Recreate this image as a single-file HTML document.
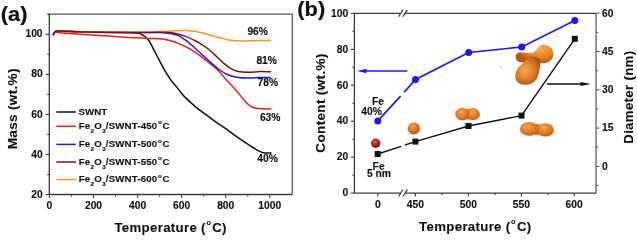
<!DOCTYPE html>
<html><head><meta charset="utf-8"><style>
html,body{margin:0;padding:0;background:#fff;width:637px;height:236px;overflow:hidden}
svg{display:block;will-change:transform}
text{font-family:"Liberation Sans", sans-serif;font-weight:bold;fill:#111;stroke:#111}
</style></head><body>
<svg width="637" height="236" viewBox="0 0 637 236">
<rect width="637" height="236" fill="#fff"/>
<text transform="translate(0.80,20.50) scale(1.04,1)" font-size="21" text-anchor="start" stroke-width="0.2" >(a)</text>
<path d="M47.6,14.1 H292.3 V194.5" fill="none" stroke="#5a5a5a" stroke-width="1.3"/>
<path d="M49.3,14.1 V194.5 H292.3" fill="none" stroke="#3c3c3c" stroke-width="1.3"/>
<line x1="45.7" y1="194.5" x2="49.3" y2="194.5" stroke="#3c3c3c" stroke-width="1.1"/>
<text transform="translate(42.60,197.60) scale(1.03,1)" font-size="10.0" text-anchor="end" stroke-width="0.12" >20</text>
<line x1="47.3" y1="174.5" x2="49.3" y2="174.5" stroke="#3c3c3c" stroke-width="1.1"/>
<line x1="45.7" y1="154.4" x2="49.3" y2="154.4" stroke="#3c3c3c" stroke-width="1.1"/>
<text transform="translate(42.60,157.55) scale(1.03,1)" font-size="10.0" text-anchor="end" stroke-width="0.12" >40</text>
<line x1="47.3" y1="134.4" x2="49.3" y2="134.4" stroke="#3c3c3c" stroke-width="1.1"/>
<line x1="45.7" y1="114.4" x2="49.3" y2="114.4" stroke="#3c3c3c" stroke-width="1.1"/>
<text transform="translate(42.60,117.50) scale(1.03,1)" font-size="10.0" text-anchor="end" stroke-width="0.12" >60</text>
<line x1="47.3" y1="94.4" x2="49.3" y2="94.4" stroke="#3c3c3c" stroke-width="1.1"/>
<line x1="45.7" y1="74.4" x2="49.3" y2="74.4" stroke="#3c3c3c" stroke-width="1.1"/>
<text transform="translate(42.60,77.45) scale(1.03,1)" font-size="10.0" text-anchor="end" stroke-width="0.12" >80</text>
<line x1="47.3" y1="54.3" x2="49.3" y2="54.3" stroke="#3c3c3c" stroke-width="1.1"/>
<line x1="45.7" y1="34.3" x2="49.3" y2="34.3" stroke="#3c3c3c" stroke-width="1.1"/>
<text transform="translate(42.60,37.40) scale(1.03,1)" font-size="10.0" text-anchor="end" stroke-width="0.12" >100</text>
<line x1="47.3" y1="14.3" x2="49.3" y2="14.3" stroke="#3c3c3c" stroke-width="1.1"/>
<line x1="49.4" y1="194.5" x2="49.4" y2="198.1" stroke="#3c3c3c" stroke-width="1.1"/>
<text transform="translate(49.40,208.60) scale(1.03,1)" font-size="10.0" text-anchor="middle" stroke-width="0.12" >0</text>
<line x1="71.4" y1="194.5" x2="71.4" y2="196.5" stroke="#3c3c3c" stroke-width="1.1"/>
<line x1="93.5" y1="194.5" x2="93.5" y2="198.1" stroke="#3c3c3c" stroke-width="1.1"/>
<text transform="translate(93.48,208.60) scale(1.03,1)" font-size="10.0" text-anchor="middle" stroke-width="0.12" >200</text>
<line x1="115.5" y1="194.5" x2="115.5" y2="196.5" stroke="#3c3c3c" stroke-width="1.1"/>
<line x1="137.6" y1="194.5" x2="137.6" y2="198.1" stroke="#3c3c3c" stroke-width="1.1"/>
<text transform="translate(137.56,208.60) scale(1.03,1)" font-size="10.0" text-anchor="middle" stroke-width="0.12" >400</text>
<line x1="159.6" y1="194.5" x2="159.6" y2="196.5" stroke="#3c3c3c" stroke-width="1.1"/>
<line x1="181.6" y1="194.5" x2="181.6" y2="198.1" stroke="#3c3c3c" stroke-width="1.1"/>
<text transform="translate(181.64,208.60) scale(1.03,1)" font-size="10.0" text-anchor="middle" stroke-width="0.12" >600</text>
<line x1="203.7" y1="194.5" x2="203.7" y2="196.5" stroke="#3c3c3c" stroke-width="1.1"/>
<line x1="225.7" y1="194.5" x2="225.7" y2="198.1" stroke="#3c3c3c" stroke-width="1.1"/>
<text transform="translate(225.72,208.60) scale(1.03,1)" font-size="10.0" text-anchor="middle" stroke-width="0.12" >800</text>
<line x1="247.8" y1="194.5" x2="247.8" y2="196.5" stroke="#3c3c3c" stroke-width="1.1"/>
<line x1="269.8" y1="194.5" x2="269.8" y2="198.1" stroke="#3c3c3c" stroke-width="1.1"/>
<text transform="translate(269.80,208.60) scale(1.03,1)" font-size="10.0" text-anchor="middle" stroke-width="0.12" >1000</text>
<text transform="translate(170.60,232.20) scale(1.02,1)" font-size="13" text-anchor="middle" stroke-width="0.1" letter-spacing="0.3">Temperature (<tspan font-size="7.3" dx="0.6" dy="-7.3">o</tspan><tspan dx="0.9" dy="7.3">C)</tspan></text>
<text transform="translate(17.20,108.80) rotate(-90) scale(1.045,1)" font-size="13" text-anchor="middle" stroke-width="0.1" letter-spacing="0.3">Mass (wt.%)</text>
<path d="M53.3,34.6 C53.5,34.2 54.1,32.9 54.6,32.4 C55.1,31.8 55.8,31.5 56.5,31.3 C57.2,31.1 56.8,30.9 59.0,31.0 C61.2,31.1 65.2,31.4 70.0,31.6 C74.8,31.8 78.3,31.9 88.0,32.1 C97.7,32.3 119.7,32.4 128.0,32.6 C136.3,32.8 135.2,32.7 137.6,33.1 C140.0,33.5 141.0,34.2 142.7,35.2 C144.4,36.2 146.4,37.7 147.8,39.2 C149.2,40.8 150.0,42.5 151.2,44.5 C152.3,46.5 153.2,48.7 154.7,51.5 C156.1,54.3 158.2,58.2 159.9,61.3 C161.6,64.4 162.9,67.2 164.6,70.2 C166.3,73.2 168.2,76.3 170.2,79.1 C172.2,81.9 174.8,84.9 176.5,86.9 C178.2,89.0 178.7,89.7 180.1,91.4 C181.5,93.2 182.7,94.9 185.2,97.4 C187.7,99.9 191.9,103.8 195.3,106.6 C198.7,109.4 202.2,111.8 205.5,114.2 C208.8,116.7 211.8,119.0 215.0,121.3 C218.2,123.6 221.2,125.5 225.0,128.2 C228.8,130.9 233.5,134.4 237.7,137.3 C241.9,140.2 246.8,143.5 250.4,145.8 C254.0,148.1 257.0,150.0 259.3,151.2 C261.6,152.4 262.4,152.7 264.4,153.0 C266.3,153.3 269.9,152.9 271.0,152.9" fill="none" stroke="#101010" stroke-width="1.5" stroke-linejoin="round" stroke-linecap="round"/>
<path d="M53.3,34.6 C53.5,34.3 54.1,33.2 54.6,32.8 C55.1,32.4 54.8,32.1 56.5,32.2 C58.2,32.3 59.8,32.9 65.0,33.3 C70.2,33.7 77.5,34.1 88.0,34.8 C98.5,35.5 117.8,36.8 128.0,37.4 C138.2,38.0 143.2,38.1 149.0,38.4 C154.8,38.7 158.3,38.5 162.7,39.1 C167.1,39.7 171.6,40.9 175.4,42.2 C179.2,43.5 182.8,45.4 185.6,46.7 C188.4,48.0 189.6,48.7 192.0,50.2 C194.4,51.7 197.0,53.5 200.0,55.7 C203.0,58.0 207.0,61.1 210.2,63.7 C213.4,66.3 216.3,68.5 219.0,71.2 C221.7,73.9 224.1,77.4 226.4,80.0 C228.7,82.6 230.6,84.3 232.7,86.6 C234.8,88.9 237.0,91.5 239.1,94.0 C241.2,96.5 243.5,99.4 245.4,101.4 C247.3,103.4 248.8,105.1 250.5,106.2 C252.2,107.3 253.7,107.8 255.6,108.2 C257.5,108.6 259.4,108.7 261.9,108.8 C264.4,108.9 269.3,109.0 270.8,109.0" fill="none" stroke="#F01A1A" stroke-width="1.5" stroke-linejoin="round" stroke-linecap="round"/>
<path d="M53.3,34.6 C53.5,34.2 54.1,32.9 54.6,32.3 C55.1,31.7 55.8,31.3 56.5,31.1 C57.2,30.9 53.8,30.8 59.0,30.9 C64.2,31.0 76.5,31.6 88.0,31.9 C99.5,32.2 116.3,32.4 128.0,32.5 C139.7,32.6 151.7,32.4 158.0,32.5 C164.3,32.6 163.7,32.7 166.0,32.9 C168.3,33.1 170.0,33.5 172.0,33.9 C174.0,34.3 175.7,34.3 178.0,35.4 C180.3,36.5 183.3,38.5 185.6,40.2 C187.9,41.9 190.1,43.8 192.0,45.4 C193.9,47.0 195.3,48.5 197.0,50.0 C198.7,51.5 199.8,52.5 202.0,54.5 C204.2,56.5 207.4,59.5 210.2,62.0 C213.0,64.5 216.0,67.4 219.0,69.5 C222.0,71.6 224.8,73.4 228.0,74.7 C231.2,76.0 234.7,77.0 238.1,77.5 C241.5,78.0 244.7,78.0 248.3,78.0 C252.0,78.0 256.4,77.7 260.0,77.6 C263.6,77.5 268.3,77.6 270.0,77.6" fill="none" stroke="#1A1AF0" stroke-width="1.5" stroke-linejoin="round" stroke-linecap="round"/>
<path d="M53.3,34.6 C53.5,34.2 54.1,32.9 54.6,32.3 C55.1,31.7 55.8,31.3 56.5,31.1 C57.2,30.9 53.8,30.8 59.0,30.9 C64.2,31.0 76.2,31.8 88.0,32.0 C99.8,32.2 119.7,32.3 130.0,32.3 C140.3,32.3 143.7,32.4 150.0,32.2 C156.3,32.0 161.9,31.5 167.8,31.2 C173.7,30.9 180.9,30.4 185.6,30.5 C190.2,30.6 192.7,31.1 195.7,31.5 C198.7,31.9 201.0,32.6 203.4,33.2 C205.8,33.8 207.4,34.4 210.2,35.2 C213.0,36.0 216.9,37.0 220.3,37.9 C223.7,38.8 227.1,39.8 230.5,40.3 C233.9,40.8 237.3,41.0 240.7,41.1 C244.1,41.2 247.6,40.9 250.8,40.8 C254.0,40.7 256.7,40.5 260.0,40.5 C263.3,40.5 268.8,40.5 270.5,40.5" fill="none" stroke="#F7951E" stroke-width="1.5" stroke-linejoin="round" stroke-linecap="round"/>
<path d="M53.3,34.6 C53.5,34.2 54.1,32.9 54.6,32.3 C55.1,31.7 55.8,31.3 56.5,31.1 C57.2,30.9 53.8,30.7 59.0,30.9 C64.2,31.1 76.5,31.8 88.0,32.1 C99.5,32.4 114.9,32.5 128.0,32.5 C141.1,32.5 158.6,32.2 166.5,32.4 C174.4,32.5 172.2,32.7 175.4,33.4 C178.6,34.1 182.2,35.1 185.6,36.4 C189.0,37.7 193.3,39.8 195.7,41.0 C198.1,42.2 198.0,42.2 200.0,43.5 C202.0,44.8 205.2,46.6 207.6,48.5 C210.0,50.4 211.9,52.2 214.5,54.6 C217.1,57.0 220.2,60.3 222.9,62.6 C225.6,64.9 228.0,66.8 230.5,68.3 C233.0,69.8 235.1,70.8 238.1,71.4 C241.1,72.1 244.7,72.2 248.3,72.2 C252.0,72.2 256.3,71.7 260.0,71.6 C263.7,71.5 268.8,71.7 270.5,71.7" fill="none" stroke="#7B1212" stroke-width="1.5" stroke-linejoin="round" stroke-linecap="round"/>
<text transform="translate(247.40,34.90) scale(1.03,1)" font-size="10.0" text-anchor="start" stroke-width="0.12" >96%</text>
<text transform="translate(256.40,63.60) scale(1.03,1)" font-size="10.0" text-anchor="start" stroke-width="0.12" >81%</text>
<text transform="translate(257.50,85.60) scale(1.03,1)" font-size="10.0" text-anchor="start" stroke-width="0.12" >78%</text>
<text transform="translate(259.90,121.20) scale(1.03,1)" font-size="10.0" text-anchor="start" stroke-width="0.12" >63%</text>
<text transform="translate(257.20,162.30) scale(1.03,1)" font-size="10.0" text-anchor="start" stroke-width="0.12" >40%</text>
<line x1="56.3" y1="112.0" x2="75.9" y2="112.0" stroke="#101010" stroke-width="1.5"/>
<text transform="translate(78.60,114.90) scale(1.08,1)" font-size="9.0" text-anchor="start" stroke-width="0.12" >SWNT</text>
<line x1="56.3" y1="126.3" x2="75.9" y2="126.3" stroke="#F01A1A" stroke-width="1.5"/>
<text transform="translate(78.80,129.20) scale(1.08,1)" font-size="9.0" text-anchor="start" stroke-width="0.12" letter-spacing="0.12">Fe<tspan font-size="5.8" dx="0.2" dy="3.7">2</tspan><tspan dx="0.1" dy="-3.7">O</tspan><tspan font-size="5.8" dx="0.2" dy="3.7">3</tspan><tspan dy="-3.7">/SWNT-450</tspan><tspan font-size="5.8" dx="0.7" dy="-4.8">o</tspan><tspan dx="0.6" dy="4.8">C</tspan></text>
<line x1="56.3" y1="144.4" x2="75.9" y2="144.4" stroke="#1A1AF0" stroke-width="1.5"/>
<text transform="translate(78.80,147.30) scale(1.08,1)" font-size="9.0" text-anchor="start" stroke-width="0.12" letter-spacing="0.12">Fe<tspan font-size="5.8" dx="0.2" dy="3.7">2</tspan><tspan dx="0.1" dy="-3.7">O</tspan><tspan font-size="5.8" dx="0.2" dy="3.7">3</tspan><tspan dy="-3.7">/SWNT-500</tspan><tspan font-size="5.8" dx="0.7" dy="-4.8">o</tspan><tspan dx="0.6" dy="4.8">C</tspan></text>
<line x1="56.3" y1="162.0" x2="75.9" y2="162.0" stroke="#7B1212" stroke-width="1.5"/>
<text transform="translate(78.80,164.90) scale(1.08,1)" font-size="9.0" text-anchor="start" stroke-width="0.12" letter-spacing="0.12">Fe<tspan font-size="5.8" dx="0.2" dy="3.7">2</tspan><tspan dx="0.1" dy="-3.7">O</tspan><tspan font-size="5.8" dx="0.2" dy="3.7">3</tspan><tspan dy="-3.7">/SWNT-550</tspan><tspan font-size="5.8" dx="0.7" dy="-4.8">o</tspan><tspan dx="0.6" dy="4.8">C</tspan></text>
<line x1="56.3" y1="179.5" x2="75.9" y2="179.5" stroke="#F7951E" stroke-width="1.5"/>
<text transform="translate(78.80,182.40) scale(1.08,1)" font-size="9.0" text-anchor="start" stroke-width="0.12" letter-spacing="0.12">Fe<tspan font-size="5.8" dx="0.2" dy="3.7">2</tspan><tspan dx="0.1" dy="-3.7">O</tspan><tspan font-size="5.8" dx="0.2" dy="3.7">3</tspan><tspan dy="-3.7">/SWNT-600</tspan><tspan font-size="5.8" dx="0.7" dy="-4.8">o</tspan><tspan dx="0.6" dy="4.8">C</tspan></text>
<text transform="translate(297.30,16.10) scale(1.04,1)" font-size="21" text-anchor="start" stroke-width="0.2" >(b)</text>
<path d="M354.4,13.3 H400.6 M405.0,13.3 H596.1" fill="none" stroke="#3c3c3c" stroke-width="1.2"/>
<path d="M596.1,13.3 V193.1" fill="none" stroke="#777" stroke-width="1.5"/>
<path d="M354.4,13.3 V193.1 H400.6 M405.0,193.1 H596.1" fill="none" stroke="#3c3c3c" stroke-width="1.3"/>
<path d="M398.6,16.7 L402.8,9.9 M402.8,16.7 L407.4,9.9" stroke="#3c3c3c" stroke-width="1.2" fill="none"/>
<path d="M398.6,196.5 L402.8,189.7 M402.8,196.5 L407.4,189.7" stroke="#3c3c3c" stroke-width="1.2" fill="none"/>
<line x1="350.8" y1="193.1" x2="354.4" y2="193.1" stroke="#3c3c3c" stroke-width="1.1"/>
<text transform="translate(348.20,196.40) scale(1.03,1)" font-size="10.0" text-anchor="end" stroke-width="0.12" >0</text>
<line x1="352.4" y1="175.1" x2="354.4" y2="175.1" stroke="#3c3c3c" stroke-width="1.1"/>
<line x1="350.8" y1="157.1" x2="354.4" y2="157.1" stroke="#3c3c3c" stroke-width="1.1"/>
<text transform="translate(348.20,160.44) scale(1.03,1)" font-size="10.0" text-anchor="end" stroke-width="0.12" >20</text>
<line x1="352.4" y1="139.2" x2="354.4" y2="139.2" stroke="#3c3c3c" stroke-width="1.1"/>
<line x1="350.8" y1="121.2" x2="354.4" y2="121.2" stroke="#3c3c3c" stroke-width="1.1"/>
<text transform="translate(348.20,124.48) scale(1.03,1)" font-size="10.0" text-anchor="end" stroke-width="0.12" >40</text>
<line x1="352.4" y1="103.2" x2="354.4" y2="103.2" stroke="#3c3c3c" stroke-width="1.1"/>
<line x1="350.8" y1="85.2" x2="354.4" y2="85.2" stroke="#3c3c3c" stroke-width="1.1"/>
<text transform="translate(348.20,88.52) scale(1.03,1)" font-size="10.0" text-anchor="end" stroke-width="0.12" >60</text>
<line x1="352.4" y1="67.2" x2="354.4" y2="67.2" stroke="#3c3c3c" stroke-width="1.1"/>
<line x1="350.8" y1="49.3" x2="354.4" y2="49.3" stroke="#3c3c3c" stroke-width="1.1"/>
<text transform="translate(348.20,52.56) scale(1.03,1)" font-size="10.0" text-anchor="end" stroke-width="0.12" >80</text>
<line x1="352.4" y1="31.3" x2="354.4" y2="31.3" stroke="#3c3c3c" stroke-width="1.1"/>
<line x1="350.8" y1="13.3" x2="354.4" y2="13.3" stroke="#3c3c3c" stroke-width="1.1"/>
<text transform="translate(348.20,16.60) scale(1.03,1)" font-size="10.0" text-anchor="end" stroke-width="0.12" >100</text>
<line x1="596.1" y1="185.5" x2="598.1" y2="185.5" stroke="#555" stroke-width="1.1"/>
<line x1="596.1" y1="166.4" x2="599.5" y2="166.4" stroke="#555" stroke-width="1.1"/>
<text transform="translate(602.00,169.70) scale(1.03,1)" font-size="10.0" text-anchor="start" stroke-width="0.12" >0</text>
<line x1="596.1" y1="147.3" x2="598.1" y2="147.3" stroke="#555" stroke-width="1.1"/>
<line x1="596.1" y1="128.1" x2="599.5" y2="128.1" stroke="#555" stroke-width="1.1"/>
<text transform="translate(602.00,131.41) scale(1.03,1)" font-size="10.0" text-anchor="start" stroke-width="0.12" >15</text>
<line x1="596.1" y1="109.0" x2="598.1" y2="109.0" stroke="#555" stroke-width="1.1"/>
<line x1="596.1" y1="89.8" x2="599.5" y2="89.8" stroke="#555" stroke-width="1.1"/>
<text transform="translate(602.00,93.11) scale(1.03,1)" font-size="10.0" text-anchor="start" stroke-width="0.12" >30</text>
<line x1="596.1" y1="70.7" x2="598.1" y2="70.7" stroke="#555" stroke-width="1.1"/>
<line x1="596.1" y1="51.5" x2="599.5" y2="51.5" stroke="#555" stroke-width="1.1"/>
<text transform="translate(602.00,54.82) scale(1.03,1)" font-size="10.0" text-anchor="start" stroke-width="0.12" >45</text>
<line x1="596.1" y1="32.4" x2="598.1" y2="32.4" stroke="#555" stroke-width="1.1"/>
<line x1="596.1" y1="13.2" x2="599.5" y2="13.2" stroke="#555" stroke-width="1.1"/>
<text transform="translate(602.00,16.52) scale(1.03,1)" font-size="10.0" text-anchor="start" stroke-width="0.12" >60</text>
<line x1="377.8" y1="193.1" x2="377.8" y2="196.5" stroke="#3c3c3c" stroke-width="1.1"/>
<text transform="translate(377.80,207.60) scale(1.03,1)" font-size="10.0" text-anchor="middle" stroke-width="0.12" >0</text>
<line x1="415.4" y1="193.1" x2="415.4" y2="196.5" stroke="#3c3c3c" stroke-width="1.1"/>
<text transform="translate(415.40,207.60) scale(1.03,1)" font-size="10.0" text-anchor="middle" stroke-width="0.12" >450</text>
<line x1="442.0" y1="193.1" x2="442.0" y2="195.1" stroke="#3c3c3c" stroke-width="1.1"/>
<line x1="468.4" y1="193.1" x2="468.4" y2="196.5" stroke="#3c3c3c" stroke-width="1.1"/>
<text transform="translate(468.40,207.60) scale(1.03,1)" font-size="10.0" text-anchor="middle" stroke-width="0.12" >500</text>
<line x1="495.0" y1="193.1" x2="495.0" y2="195.1" stroke="#3c3c3c" stroke-width="1.1"/>
<line x1="521.4" y1="193.1" x2="521.4" y2="196.5" stroke="#3c3c3c" stroke-width="1.1"/>
<text transform="translate(521.40,207.60) scale(1.03,1)" font-size="10.0" text-anchor="middle" stroke-width="0.12" >550</text>
<line x1="547.8" y1="193.1" x2="547.8" y2="195.1" stroke="#3c3c3c" stroke-width="1.1"/>
<line x1="574.2" y1="193.1" x2="574.2" y2="196.5" stroke="#3c3c3c" stroke-width="1.1"/>
<text transform="translate(574.20,207.60) scale(1.03,1)" font-size="10.0" text-anchor="middle" stroke-width="0.12" >600</text>
<text transform="translate(475.30,230.80) scale(1.02,1)" font-size="13" text-anchor="middle" stroke-width="0.1" letter-spacing="0.3">Temperature (<tspan font-size="7.3" dx="0.6" dy="-7.3">o</tspan><tspan dx="0.9" dy="7.3">C)</tspan></text>
<text transform="translate(325.00,103.00) rotate(-90) scale(1.045,1)" font-size="13" text-anchor="middle" stroke-width="0.1" letter-spacing="0.3">Content (wt.%)</text>
<text transform="translate(633.40,97.20) rotate(-90) scale(1.02,1)" font-size="13" text-anchor="middle" stroke-width="0.1" letter-spacing="0.3">Diameter (nm)</text>
<defs>
<radialGradient id="og" cx="0.4" cy="0.35" r="0.7">
 <stop offset="0" stop-color="#F8A458"/><stop offset="0.45" stop-color="#E47A24"/><stop offset="0.9" stop-color="#BC5A12"/><stop offset="1" stop-color="#A04C0C"/>
</radialGradient>
<radialGradient id="rg" cx="0.4" cy="0.35" r="0.7">
 <stop offset="0" stop-color="#D86060"/><stop offset="0.45" stop-color="#B02828"/><stop offset="1" stop-color="#701414"/>
</radialGradient>
<radialGradient id="og2" gradientUnits="userSpaceOnUse" cx="466" cy="111" r="13" gradientTransform="translate(466 111) scale(1.3 0.9) translate(-466 -111)">
 <stop offset="0" stop-color="#F09448"/><stop offset="0.55" stop-color="#E27824"/><stop offset="1" stop-color="#B05410"/>
</radialGradient>
<radialGradient id="og3" gradientUnits="userSpaceOnUse" cx="535" cy="126" r="15" gradientTransform="translate(535 126) scale(1.4 0.8) translate(-535 -126)">
 <stop offset="0" stop-color="#F09448"/><stop offset="0.55" stop-color="#E27824"/><stop offset="1" stop-color="#B05410"/>
</radialGradient>
<radialGradient id="bone1" gradientUnits="userSpaceOnUse" cx="540" cy="49" r="17" gradientTransform="translate(540 49) scale(1.4 0.85) translate(-540 -49)">
 <stop offset="0" stop-color="#F8A858"/><stop offset="0.55" stop-color="#E8842C"/><stop offset="1" stop-color="#B45814"/>
</radialGradient>
<radialGradient id="bone2" gradientUnits="userSpaceOnUse" cx="525" cy="70" r="16">
 <stop offset="0" stop-color="#F8A85A"/><stop offset="0.5" stop-color="#E8822A"/><stop offset="1" stop-color="#B05612"/>
</radialGradient>
<radialGradient id="og4" cx="0.42" cy="0.35" r="0.72">
 <stop offset="0" stop-color="#F6A456"/><stop offset="0.5" stop-color="#E67E2A"/><stop offset="0.88" stop-color="#C8641A"/><stop offset="1" stop-color="#B05614"/>
</radialGradient>
</defs>
<path d="M377.8,120.9 L400.6,96.2 M404.2,92.3 L415.5,79.4 L468.7,52.5 L521.7,47.0 L574.8,20.6" fill="none" stroke="#1A1AF0" stroke-width="1.7"/>
<circle cx="377.8" cy="120.9" r="3.5" fill="#1A1AF0"/>
<circle cx="415.5" cy="79.4" r="3.5" fill="#1A1AF0"/>
<circle cx="468.7" cy="52.5" r="3.5" fill="#1A1AF0"/>
<circle cx="521.7" cy="47.0" r="3.5" fill="#1A1AF0"/>
<circle cx="574.8" cy="20.6" r="3.5" fill="#1A1AF0"/>
<line x1="365" y1="71" x2="407.3" y2="71" stroke="#1A1AF0" stroke-width="1.5"/>
<path d="M357.1,71 L366.5,68.8 L366.5,73.2 Z" fill="#1A1AF0"/>
<line x1="546.8" y1="84" x2="582" y2="84" stroke="#111" stroke-width="1.4"/>
<path d="M590.8,84 L580.5,81.9 L580.5,86.1 Z" fill="#111"/>
<path d="M377.7,154.0 L401.2,146.3 M405.0,145.0 L415.4,141.6 L468.5,126.0 L521.5,115.6 L574.8,38.8" fill="none" stroke="#111" stroke-width="1.4"/>
<rect x="374.7" y="151.0" width="6" height="6" fill="#111"/>
<rect x="412.4" y="138.6" width="6" height="6" fill="#111"/>
<rect x="465.5" y="123.0" width="6" height="6" fill="#111"/>
<rect x="518.5" y="112.6" width="6" height="6" fill="#111"/>
<rect x="571.8" y="35.8" width="6" height="6" fill="#111"/>
<circle cx="375.7" cy="143.2" r="4.7" fill="url(#rg)"/>
<circle cx="413.8" cy="128.5" r="6.1" fill="url(#og)"/>
<ellipse cx="467.8" cy="114.2" rx="5" ry="5.2" fill="#D87028"/>
<ellipse cx="472.9" cy="114.2" rx="7.0" ry="6.1" fill="url(#og4)"/>
<ellipse cx="462.2" cy="114.0" rx="6.9" ry="6.3" fill="url(#og4)"/>
<path d="M467.6,108.6 C469.6,110.5 469.8,117.5 467.8,119.6" fill="none" stroke="#B85A14" stroke-width="0.6" opacity="0.35"/>
<ellipse cx="537.2" cy="129.5" rx="6" ry="5.6" fill="#D87028"/>
<ellipse cx="545.3" cy="129.9" rx="8.6" ry="6.7" fill="url(#og4)"/>
<ellipse cx="529.2" cy="128.9" rx="9.3" ry="6.9" fill="url(#og4)"/>
<path d="M537.4,123.0 C539.6,125.5 539.8,132.5 537.6,135.0" fill="none" stroke="#B85A14" stroke-width="0.6" opacity="0.35"/>
<g>
<path d="M515.7,57.4 C515.5,54.5 517,52.3 520,52.2 C524,52.2 528,53.5 532.4,52.8 C536,52.2 538.5,46 541.3,45.1 C544,44.2 549,45.5 551.4,48.1 C553.5,50.5 554.2,55 552.5,58.2 C550.5,61.5 546,63.5 541.9,63.3 C538.5,63 536.5,61 533,61 C528,61 525,62.8 521.5,62.5 C518,62.2 516,60 515.7,57.4 Z" fill="url(#bone1)"/>
<path d="M528.5,56.8 C532,56 537,57 540.2,59 C540.8,64 540,70 538,76 C536,82 531,85 524.5,84.8 C518.5,84.5 515,80.5 515.3,75.5 C515.6,70.5 518.5,67 521.5,64.5 C524,62.5 526.5,59.8 528.5,56.8 Z" fill="url(#bone2)"/>
<path d="M528.5,56.8 C532,56 537,57 540.2,59" fill="none" stroke="#B05410" stroke-width="0.7" opacity="0.35"/>
</g>
<circle cx="500.9" cy="67" r="0.6" fill="#777"/>
<text transform="translate(378.00,105.20) scale(1.03,1)" font-size="10.0" text-anchor="middle" stroke-width="0.12" >Fe</text>
<text transform="translate(361.30,115.10) scale(1.03,1)" font-size="10.0" text-anchor="start" stroke-width="0.12" >40%</text>
<text transform="translate(378.60,170.00) scale(1.03,1)" font-size="10.0" text-anchor="middle" stroke-width="0.12" >Fe</text>
<text transform="translate(379.00,176.60) scale(1.03,1)" font-size="10.0" text-anchor="middle" stroke-width="0.12" >5 nm</text>
</svg></body></html>
